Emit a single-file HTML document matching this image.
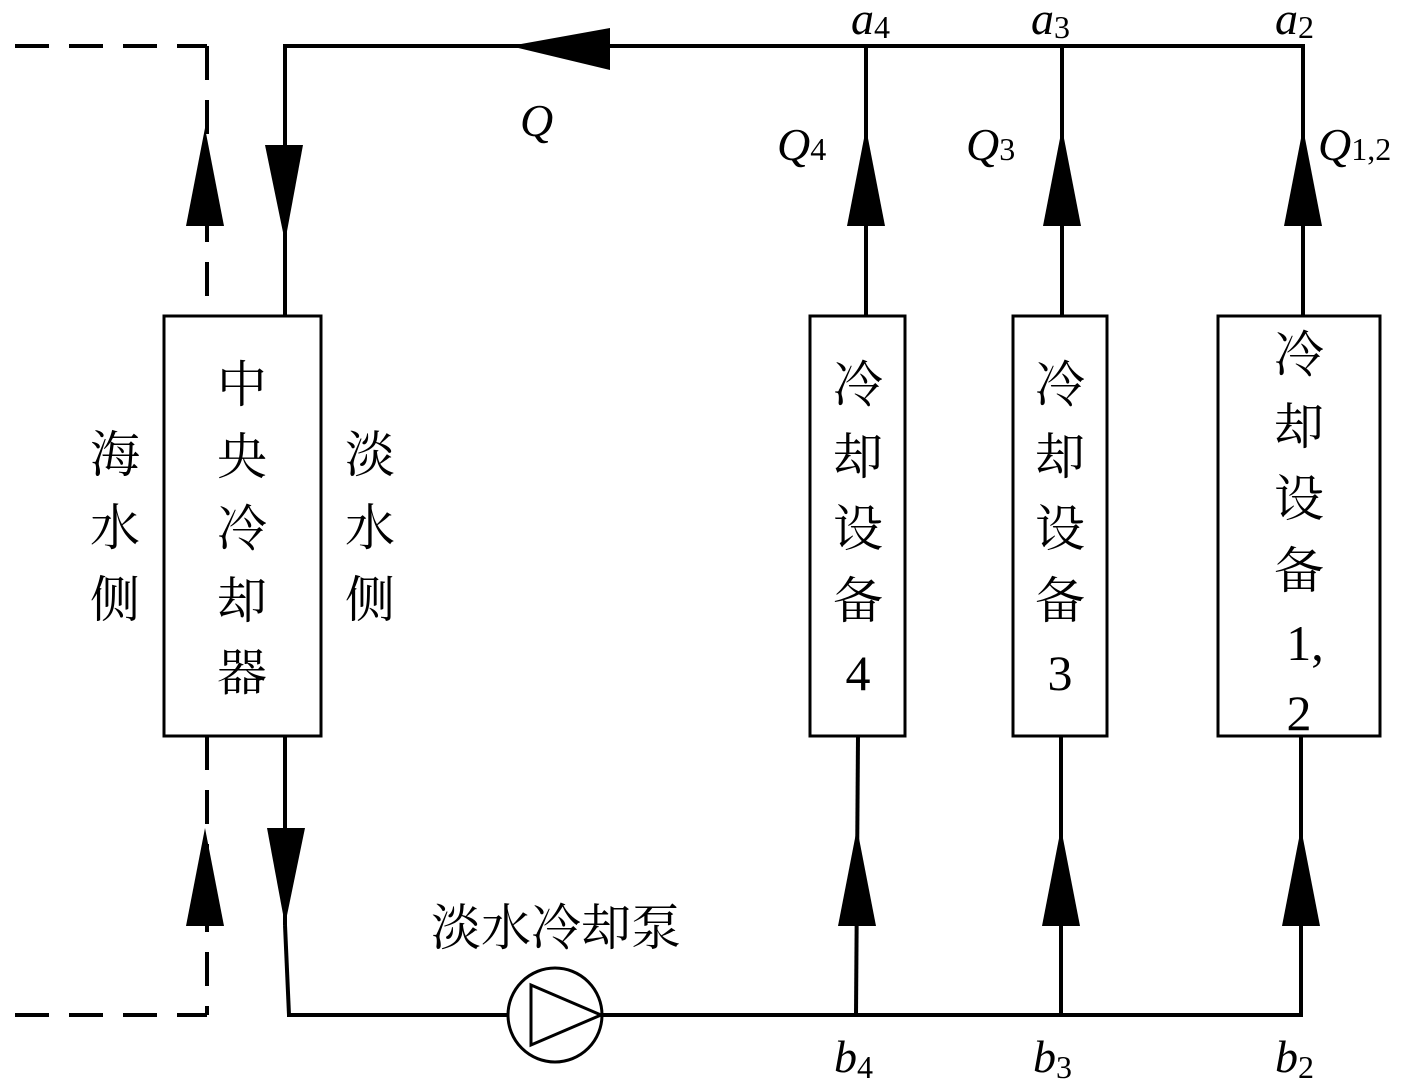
<!DOCTYPE html>
<html><head><meta charset="utf-8"><style>
html,body{margin:0;padding:0;background:#fff;}
svg{display:block;}
.it{font-family:"Liberation Serif",serif;font-style:italic;font-size:46px;}
.n{font-family:"Liberation Serif",serif;font-size:32px;font-style:normal;}
.cn{font-family:"Liberation Serif","Noto Serif CJK SC","Noto Sans CJK SC",serif;font-size:50px;}
</style></head><body>
<svg width="1417" height="1085" viewBox="0 0 1417 1085" xmlns="http://www.w3.org/2000/svg">
<g stroke="#000" stroke-width="4" fill="none">
<!-- top line -->
<line x1="283" y1="46" x2="1305" y2="46"/>
<line x1="285" y1="46" x2="285" y2="316"/>
<!-- central box -->
<rect x="164" y="316" width="157" height="420" stroke-width="3"/>
<line x1="285" y1="736" x2="285" y2="925"/>
<line x1="285" y1="925" x2="289" y2="1015"/>
<line x1="287" y1="1015" x2="508" y2="1015"/>
<line x1="602" y1="1015" x2="1303" y2="1015"/>
<circle cx="555" cy="1015" r="47" stroke-width="3"/>
<polygon points="531,985 531,1045 601,1015" stroke-width="3"/>
<!-- dashed left -->
<line x1="15" y1="46" x2="207" y2="46" stroke-dasharray="34,20"/>
<line x1="207" y1="46" x2="207" y2="316" stroke-dasharray="34,20"/>
<line x1="15" y1="1015" x2="207" y2="1015" stroke-dasharray="34,20"/>
<line x1="207" y1="736" x2="207" y2="1015" stroke-dasharray="34,20"/>
<!-- devices -->
<rect x="810" y="316" width="95" height="420" stroke-width="3"/>
<rect x="1013" y="316" width="94" height="420" stroke-width="3"/>
<rect x="1218" y="316" width="162" height="420" stroke-width="3"/>
<line x1="866" y1="46" x2="866" y2="316"/>
<line x1="1062" y1="46" x2="1062" y2="316"/>
<line x1="1303" y1="46" x2="1303" y2="316"/>
<line x1="858" y1="736" x2="856" y2="1015"/>
<line x1="1061" y1="736" x2="1061" y2="1015"/>
<line x1="1301" y1="736" x2="1301" y2="1015"/>
</g>
<g fill="#000">
<polygon points="510,46 610,28 610,70"/>
<polygon points="285,242 265,145 303,145"/>
<polygon points="285,925 267,828 305,828"/>
<polygon points="205,128 186,226 224,226"/>
<polygon points="205,828 186,926 224,926"/>
<polygon points="866,128 847,226 885,226"/>
<polygon points="1062,128 1043,226 1081,226"/>
<polygon points="1303,128 1284,226 1322,226"/>
<polygon points="857,828 838,926 876,926"/>
<polygon points="1061,828 1042,926 1080,926"/>
<polygon points="1301,828 1282,926 1320,926"/>
</g>
<g fill="#000">
<text class="it" x="851" y="34">a<tspan class="n" dy="4">4</tspan></text>
<text class="it" x="1031" y="34">a<tspan class="n" dy="4">3</tspan></text>
<text class="it" x="1275" y="34">a<tspan class="n" dy="4">2</tspan></text>
<text class="it" x="520" y="136">Q</text>
<text class="it" x="777" y="160">Q<tspan class="n">4</tspan></text>
<text class="it" x="966" y="160">Q<tspan class="n">3</tspan></text>
<text class="it" x="1318" y="160">Q<tspan class="n">1,2</tspan></text>
<text class="it" x="834" y="1072">b<tspan class="n" dy="6">4</tspan></text>
<text class="it" x="1033" y="1072">b<tspan class="n" dy="6">3</tspan></text>
<text class="it" x="1275" y="1072">b<tspan class="n" dy="6">2</tspan></text>
</g>
<g class="cn" fill="#000" text-anchor="middle">
<text x="115" y="472">海</text><text x="115" y="545">水</text><text x="115" y="617">侧</text>
<text x="242" y="402">中</text><text x="242" y="474">央</text><text x="242" y="546">冷</text><text x="242" y="618">却</text><text x="242" y="690">器</text>
<text x="370" y="472">淡</text><text x="370" y="545">水</text><text x="370" y="617">侧</text>
<text x="858" y="402">冷</text><text x="858" y="474">却</text><text x="858" y="546">设</text><text x="858" y="618">备</text><text x="858" y="690" style="font-family:'Liberation Serif',serif">4</text>
<text x="1060" y="402">冷</text><text x="1060" y="474">却</text><text x="1060" y="546">设</text><text x="1060" y="618">备</text><text x="1060" y="690" style="font-family:'Liberation Serif',serif">3</text>
<text x="1299" y="372">冷</text><text x="1299" y="444">却</text><text x="1299" y="516">设</text><text x="1299" y="588">备</text><text x="1305" y="660" style="font-family:'Liberation Serif',serif">1,</text><text x="1299" y="730" style="font-family:'Liberation Serif',serif">2</text>
<text x="556" y="945">淡水冷却泵</text>
</g>
</svg>
</body></html>
